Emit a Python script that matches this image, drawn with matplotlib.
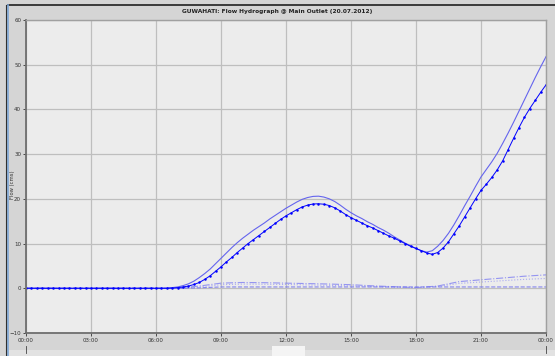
import numpy as np
import matplotlib
matplotlib.use('Agg')
import matplotlib.pyplot as plt
from matplotlib.lines import Line2D
from matplotlib.patches import Rectangle

# 15-minute time steps (hours)
time_q = np.arange(0, 24.001, 0.25)
# hourly time steps for the small component flows
time_h = np.arange(0, 25, 1)

flow_total = [0, 0, 0, 0, 0, 0, 0, 0, 0, 0, 0, 0, 0, 0, 0, 0, 0, 0, 0, 0,
              0, 0, 0, 0, 0, 0,
              0.05, 0.15, 0.3, 0.6, 1.0, 1.6, 2.4, 3.3, 4.3, 5.5,
              6.7, 7.9, 9.1, 10.2, 11.2, 12.1, 13.0, 13.8, 14.6, 15.5,
              16.3, 17.1, 17.9, 18.6, 19.3, 19.9, 20.3, 20.55, 20.6, 20.4,
              20.0, 19.4, 18.6, 17.7, 16.9, 16.2, 15.6, 14.9, 14.3, 13.6,
              13.0, 12.3, 11.5, 10.8, 10.1, 9.5, 8.9, 8.4, 8.1, 8.4,
              9.4, 10.7, 12.3, 14.2, 16.3, 18.5, 20.6, 22.8, 24.9, 26.6,
              28.3, 30.2, 32.4, 34.7, 37.1, 39.6, 42.1, 44.6, 47.1, 49.5,
              51.8]

flow_outlet = [0, 0, 0, 0, 0, 0, 0, 0, 0, 0, 0, 0, 0, 0, 0, 0, 0, 0, 0, 0,
               0, 0, 0, 0, 0, 0, 0,
               0.05, 0.15, 0.3, 0.5, 0.85, 1.3, 2.0, 2.8, 3.8, 4.8,
               5.9, 6.9, 8.0, 9.0, 10.0, 10.9, 11.8, 12.7, 13.6, 14.5,
               15.4, 16.2, 16.9, 17.6, 18.2, 18.6, 18.85, 18.9, 18.8, 18.5,
               18.0, 17.3, 16.5, 15.8, 15.2, 14.6, 14.0, 13.5, 12.9, 12.3,
               11.7, 11.2, 10.6, 10.0, 9.4, 8.9, 8.4, 7.9, 7.6, 8.0,
               9.0, 10.4, 12.2, 14.0, 16.0, 18.0, 20.0, 21.9, 23.3, 24.8,
               26.5, 28.5, 31.0, 33.5, 35.9, 38.2, 40.2, 42.0, 43.8, 45.5]

flow_a = [0, 0, 0, 0, 0, 0, 0, 0.05, 0.5, 1.15, 1.3, 1.25, 1.15, 1.05, 0.95,
          0.8, 0.55, 0.35, 0.15, 0.5, 1.5, 1.9, 2.3, 2.7, 3.0]
flow_b = [0, 0, 0, 0, 0, 0, 0, 0, 0.3, 0.8, 0.95, 0.9, 0.85, 0.75, 0.65,
          0.55, 0.4, 0.25, 0.1, 0.4, 1.1, 1.4, 1.7, 2.0, 2.2]
flow_c = [0, 0, 0, 0, 0, 0, 0, 0, 0.1, 0.3, 0.3, 0.3, 0.3, 0.3, 0.3,
          0.3, 0.3, 0.3, 0.3, 0.3, 0.3, 0.3, 0.3, 0.3, 0.3]

x_ticks = [0, 3, 6, 9, 12, 15, 18, 21, 24]
x_labels = ['00:00', '03:00', '06:00', '09:00', '12:00', '15:00',
            '18:00', '21:00', '00:00']
y_ticks = [-10, 0, 10, 20, 30, 40, 50, 60]

W, H = 555, 356
fig = plt.figure(figsize=(W / 100, H / 100), dpi=100)
fig.patch.set_facecolor('#d5d5d5')

ax = fig.add_axes([26 / W, 23 / H, 520 / W, 313 / H])
ax.set_facecolor('#ececec')

ax.plot(time_h, flow_a, color='#7f7ff2', lw=0.8, ls='-.', alpha=0.8)
ax.plot(time_h, flow_b, color='#9a9af2', lw=0.8, ls=':', alpha=0.8)
ax.plot(time_h, flow_c, color='#6d6df0', lw=0.8, ls='--', alpha=0.8)
ax.plot(time_q, flow_total, color='#6464ee', lw=0.8)
ax.plot(time_q, flow_outlet, color='#0000ff', lw=0.7, marker='o',
        ms=1.8, mew=0)

ax.set_xlim(0, 24)
ax.set_ylim(-10, 60)
ax.set_xticks(x_ticks)
ax.set_xticklabels(x_labels)
ax.set_yticks(y_ticks)
ax.grid(True, color='#bebebe', lw=0.9)
ax.tick_params(labelsize=4, length=2.5, width=0.6, colors='#333333', pad=1)
for side in ['left', 'bottom']:
    ax.spines[side].set_color('#6e6e6e')
    ax.spines[side].set_linewidth(1.3)
for side in ['top', 'right']:
    ax.spines[side].set_color('#a0a0a0')
    ax.spines[side].set_linewidth(1.0)

fig.text(0.5, 1 - 11 / H, 'GUWAHATI: Flow Hydrograph @ Main Outlet (20.07.2012)',
         ha='center', va='center', fontsize=4.2, fontweight='bold', color='#222222')
fig.text(12.5 / W, 1 - 185 / H, 'Flow (cms)', rotation=90, ha='center',
         va='center', fontsize=3.8, color='#333333')

# window frame bits
fig.add_artist(Line2D([8 / W, 1], [1 - 5 / H, 1 - 5 / H], color='#202020', lw=1.2))
fig.add_artist(Line2D([7.5 / W, 7.5 / W], [0, 1 - 5 / H], color='#7fa8d8', lw=1.2))
fig.add_artist(Line2D([5.5 / W, 5.5 / W], [0, 1 - 5 / H], color='#303030', lw=0.8))
fig.add_artist(Rectangle((8 / W, 0), 1, 6 / H, transform=fig.transFigure,
                         facecolor='#e2e2e2', edgecolor='none'))
fig.add_artist(Rectangle((272 / W, 0), 33 / W, 10 / H, transform=fig.transFigure,
                         facecolor='#f4f4f4', edgecolor='none'))
fig.add_artist(Line2D([26 / W, 26 / W], [3 / H, 10 / H], color='#444444', lw=0.6))
fig.add_artist(Line2D([546 / W, 546 / W], [3 / H, 10 / H], color='#444444', lw=0.6))

plt.savefig('out.png', dpi=100, facecolor=fig.get_facecolor())
